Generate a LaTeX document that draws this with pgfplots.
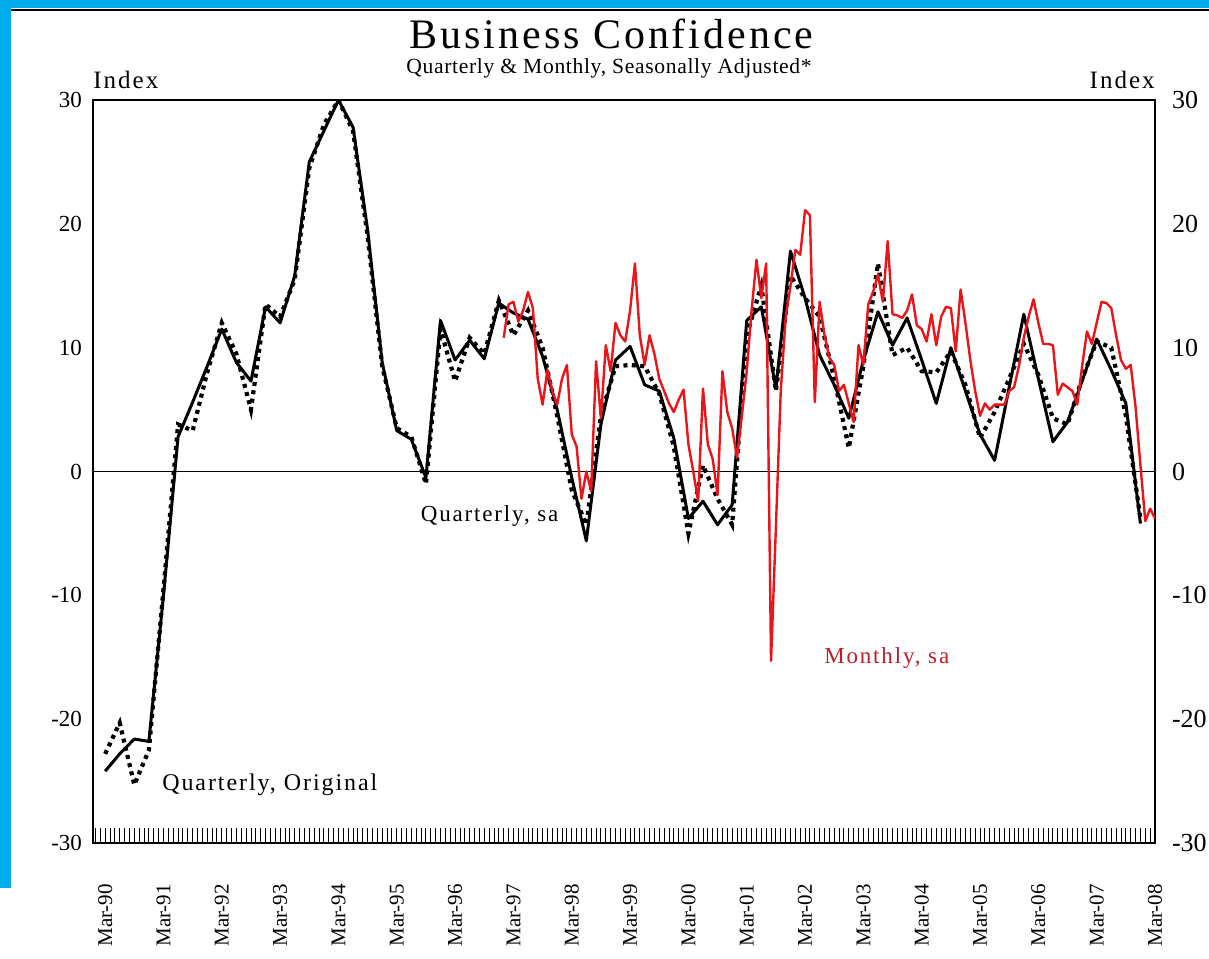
\documentclass[border=0pt]{standalone}
\usepackage{fontspec}
\setmainfont{Liberation Serif}
\newfontfamily\spaced{Liberation Serif}[LetterSpace=8]
\newfontfamily\spacedS{Liberation Serif}[LetterSpace=3]
\newfontfamily\spacedT{Liberation Serif}[LetterSpace=7]
\usepackage{pgfplots}
\usepackage{pgfplotstable}
\pgfplotsset{compat=1.18}
\definecolor{frameblue}{RGB}{0,172,236}
\definecolor{monthred}{RGB}{235,20,25}
\definecolor{labelred}{RGB}{190,30,40}

\pgfplotstableread{
m sa orig
0 -24.2 -22.8
3 -22.8 -20.3
6 -21.6 -25.3
9 -21.8 -22.5
12 -10.0 -9.5
15 2.8 3.8
18 5.6 3.3
21 8.5 8.0
24 11.5 12.0
27 8.8 9.5
30 7.3 5.0
33 13.3 13.5
36 12.0 12.5
39 15.8 15.5
42 25.0 24.5
45 27.5 28.0
48 30.0 30.0
51 27.8 27.5
54 19.5 19.0
57 8.8 8.5
60 3.3 3.5
63 2.6 2.8
66 -0.5 -1.0
69 12.2 11.5
72 9.0 7.3
75 10.6 10.8
78 9.1 9.5
81 13.6 13.8
84 12.8 11.0
87 12.3 13.0
90 9.3 10.0
93 5.0 4.5
96 -0.5 -1.5
99 -5.6 -4.3
102 3.8 4.5
105 9.0 8.5
108 10.1 8.6
111 7.0 8.5
114 6.5 6.3
117 2.7 2.0
120 -3.8 -5.0
123 -2.4 0.5
126 -4.3 -2.2
129 -2.7 -4.3
132 12.2 11.0
135 13.3 15.0
138 6.7 6.5
141 17.8 15.8
144 14.0 14.0
147 9.4 12.5
150 7.0 7.5
153 4.3 1.9
156 9.0 8.5
159 12.9 16.8
162 10.2 9.4
165 12.4 10.0
168 9.0 8.1
171 5.5 8.0
174 10.0 9.7
177 6.5 7.0
180 3.0 2.7
183 0.9 4.8
186 6.8 7.5
189 12.7 10.3
192 7.5 7.8
195 2.4 4.3
198 4.0 3.8
201 7.3 7.5
204 10.7 10.5
207 8.2 10.0
210 5.5 4.5
213 -4.2 -3.8
}\quarterly

\begin{document}
\begin{tikzpicture}
\path[use as bounding box] (-46.5pt,-57.5pt) rectangle (558pt,421.5pt);
\begin{axis}[
  at={(0,0)}, anchor=south west,
  scale only axis, width=531pt, height=371.5pt,
  xmin=-2.5, xmax=216, ymin=-30, ymax=30,
  axis line style={line width=0.7pt},
  xtick={0,12,...,216},
  xticklabels={Mar-90,Mar-91,Mar-92,Mar-93,Mar-94,Mar-95,Mar-96,Mar-97,Mar-98,Mar-99,Mar-00,Mar-01,Mar-02,Mar-03,Mar-04,Mar-05,Mar-06,Mar-07,Mar-08},
  minor xtick={-2,-1,...,216},
  tick align=inside,
  xtick pos=bottom,
  major tick length=7.5pt, minor tick length=7.5pt,
  every tick/.style={black, line width=0.45pt},
  ytick={-30,-20,-10,0,10,20,30},
  yticklabels={-30,-20,-10,0,10,20,30},
  ytick pos=left,
  ytick style={draw=none},
  yticklabel style={font=\fontsize{11.5}{12}\selectfont, xshift=-2pt},
  xticklabel style={rotate=90, anchor=east, font=\fontsize{10.5}{11}\selectfont},
  xticklabel shift=17pt,
  clip=true,
]
\addplot[black, line width=0.6pt] coordinates {(-2.5,0) (216,0)};
\addplot[black, line width=2.1pt, dash pattern=on 2pt off 2.2pt] table[x=m, y=orig] {\quarterly};
\addplot[black, line width=1.5pt, line join=round] table[x=m, y=sa] {\quarterly};
\addplot[monthred, line width=1.2pt, line join=round] coordinates {
(82,10.8) (83,13.5) (84,13.7) (85,12.1) (86,13.0) (87,14.5) (88,13.2) (89,7.5) (90,5.4) (91,8.2)
(92,6.5) (93,5.4) (94,7.5) (95,8.6) (96,3.0) (97,2.0) (98,-2.2) (99,0.0) (100,-1.6) (101,8.9)
(102,4.3) (103,10.2) (104,8.1) (105,12.0) (106,11.0) (107,10.5) (108,13.0) (109,16.8) (110,11.0) (111,8.6)
(112,11.0) (113,9.5) (114,7.5) (115,6.5) (116,5.5) (117,4.8) (118,5.8) (119,6.6) (120,2.2) (121,0.0)
(122,-2.4) (123,6.7) (124,2.2) (125,1.0) (126,-1.9) (127,8.1) (128,4.8) (129,3.5) (130,1.1) (131,4.5)
(132,8.1) (133,13.0) (134,17.1) (135,14.0) (136,16.8) (137,-15.3) (138,-4.5) (139,6.5) (140,12.4) (141,15.0)
(142,17.9) (143,17.5) (144,21.1) (145,20.7) (146,5.6) (147,13.7) (148,11.0) (149,9.2) (150,8.6) (151,6.5)
(152,7.0) (153,5.5) (154,4.0) (155,10.2) (156,8.6) (157,13.5) (158,14.5) (159,15.9) (160,13.7) (161,18.6)
(162,12.7) (163,12.6) (164,12.4) (165,13.0) (166,14.3) (167,11.8) (168,11.5) (169,10.5) (170,12.7) (171,10.2)
(172,12.5) (173,13.3) (174,13.2) (175,9.7) (176,14.7) (177,12.0) (178,9.0) (179,6.5) (180,4.5) (181,5.5)
(182,5.0) (183,5.4) (184,5.4) (185,5.4) (186,6.5) (187,6.8) (188,8.5) (189,10.8) (190,12.5) (191,13.9)
(192,12.0) (193,10.3) (194,10.3) (195,10.2) (196,6.2) (197,7.1) (198,6.8) (199,6.5) (200,5.4) (201,8.5)
(202,11.3) (203,10.3) (204,12.0) (205,13.7) (206,13.6) (207,13.2) (208,11.0) (209,9.0) (210,8.3) (211,8.6)
(212,5.2) (213,0.5) (214,-4.0) (215,-3.0) (216,-3.8)
};
\node[anchor=west, font=\spaced\fontsize{11.5}{12}\selectfont] at (axis cs:63.5,-3.6) {Quarterly, sa};
\node[anchor=west, font=\spaced\fontsize{12}{12}\selectfont] at (axis cs:10.3,-25.3) {Quarterly, Original};
\node[anchor=west, text=labelred, font=\spaced\fontsize{11.5}{12}\selectfont] at (axis cs:146.5,-15.1) {Monthly, sa};
\end{axis}
\begin{axis}[
  at={(0,0)}, anchor=south west,
  scale only axis, width=531pt, height=371.5pt,
  xmin=-2.5, xmax=216, ymin=-30, ymax=30,
  hide x axis,
  axis y line*=right,
  y axis line style={draw=none},
  ytick={-30,-20,-10,0,10,20,30},
  yticklabels={-30,-20,-10,0,10,20,30},
  ytick style={draw=none},
  yticklabel style={font=\fontsize{13}{13}\selectfont, xshift=5pt},
]
\addplot[draw=none] coordinates {(0,0)};
\end{axis}
% titles
\node[anchor=base, font=\spacedT\fontsize{21}{22}\selectfont] at (259.25pt,397pt) {Business Confidence};
\node[anchor=base, font=\spacedS\fontsize{10.8}{11}\selectfont] at (258pt,384.5pt) {Quarterly \& Monthly, Seasonally Adjusted*};
\node[anchor=base west, inner sep=0pt, font=\spaced\fontsize{12.5}{12}\selectfont] at (0pt,377pt) {Index};
\node[anchor=base east, inner sep=0pt, font=\spaced\fontsize{12.5}{12}\selectfont] at (531pt,377pt) {Index};
% frame decoration
\fill[frameblue] (-46.5pt,417.5pt) rectangle (558pt,421.5pt);
\fill[frameblue] (-46.5pt,-22.5pt) rectangle (-41pt,421.5pt);
\draw[black, line width=1pt] (-41pt,416.3pt) -- (558pt,416.3pt);
\end{tikzpicture}
\end{document}
